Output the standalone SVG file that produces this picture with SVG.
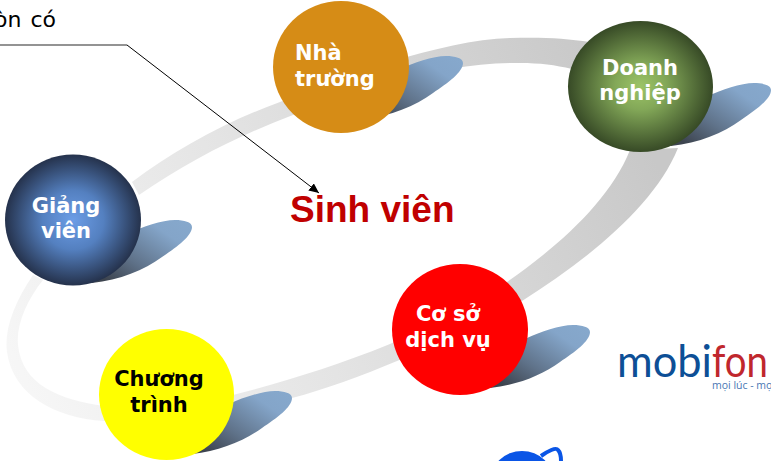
<svg xmlns="http://www.w3.org/2000/svg" width="771" height="461" viewBox="0 0 771 461">
<style>
.lbl{font-family:"DejaVu Sans",Verdana,sans-serif;font-weight:700;font-size:21px;text-anchor:middle;fill:#fff}
</style>
<defs>
<linearGradient id="band" gradientUnits="userSpaceOnUse" x1="0" y1="400" x2="620" y2="90">
<stop offset="0" stop-color="#f8f8f8"/><stop offset="0.45" stop-color="#e4e4e4"/><stop offset="1" stop-color="#c8c8c8"/>
</linearGradient>
<linearGradient id="shadow" x1="0" y1="1" x2="1" y2="0.1">
<stop offset="0.1" stop-color="#3d444f"/><stop offset="0.4" stop-color="#5f7289"/><stop offset="0.8" stop-color="#84a5c9"/><stop offset="1" stop-color="#86a8cc"/>
</linearGradient>
<path id="shape" fill="url(#shadow)" d="M0 0C0 -5 -8 -7 -17 -7C-30 -7 -50 0 -63 6C-85 15 -100 35 -100 56C-72 53 -48 43 -30 30C-15 20 0 9 0 0Z"/>
<radialGradient id="blue"><stop offset="0" stop-color="#6c9de6"/><stop offset="0.45" stop-color="#5480c0"/><stop offset="1" stop-color="#25324c"/></radialGradient>
<radialGradient id="green"><stop offset="0" stop-color="#9cc466"/><stop offset="0.35" stop-color="#83a858"/><stop offset="1" stop-color="#374a26"/></radialGradient>
<marker id="arrow" markerUnits="userSpaceOnUse" markerWidth="11" markerHeight="9" refX="10" refY="4.5" orient="auto">
<path d="M0 0L10 4.5L0 9Z" fill="#000"/>
</marker>
</defs>
<g id="connectors">
<path id="ring" fill="url(#band)" d="M33 275C14 303 4 330 7 352C13 395 55 418 104 421L175 415C215 412 265 408 292 398C360 380 450 340 522 301C590 258 655 205 678 148L630 150C610 200 560 245 507 282C430 335 330 370 233 395L168 410L104 406C60 400 22 385 18 345C16 325 27 300 43 280ZM132 182L139 195C190 160 240 135 293 115C350 92 440 62 520 63C540 63 555 65 572 69L590 42C565 38 540 37 510 38C440 40 340 78 280 102C225 122 175 150 132 182Z"/>
<path id="leader" d="M0 45H127" fill="none" stroke="#6f6f6f" stroke-width="1.5"/>
<path id="arrow-line" d="M127 45L319 193" fill="none" stroke="#000" stroke-width="1" marker-end="url(#arrow)"/>
</g>
<g id="giang-vien">
<use href="#shape" x="192" y="227"/>
<ellipse cx="73" cy="220" rx="68" ry="65.5" fill="url(#blue)"/>
<text class="lbl"><tspan x="66" y="213">Giảng</tspan><tspan x="66" y="238">viên</tspan></text>
</g>
<g id="nha-truong">
<use href="#shape" x="463" y="63"/>
<ellipse cx="341" cy="67" rx="68" ry="66" fill="#d68c16"/>
<text class="lbl" style="text-anchor:start"><tspan x="295" y="60">Nhà</tspan><tspan x="295" y="86">trường</tspan></text>
</g>
<g id="doanh-nghiep">
<use href="#shape" x="771" y="90"/>
<ellipse cx="640.5" cy="86.5" rx="72.5" ry="65.5" fill="url(#green)"/>
<text class="lbl"><tspan x="640" y="75">Doanh</tspan><tspan x="640" y="100">nghiệp</tspan></text>
</g>
<g id="co-so-dich-vu">
<use href="#shape" x="590" y="332"/>
<ellipse cx="460" cy="329.5" rx="68" ry="65.5" fill="#f00"/>
<text class="lbl"><tspan x="448" y="321">Cơ sở</tspan><tspan x="448" y="347">dịch vụ</tspan></text>
</g>
<g id="chuong-trinh">
<use href="#shape" x="292" y="398"/>
<ellipse cx="166.5" cy="394.5" rx="67.5" ry="65.5" fill="#ff0"/>
<text class="lbl" style="fill:#000"><tspan x="159" y="386">Chương</tspan><tspan x="159" y="412">trình</tspan></text>
</g>
<g id="sinh-vien">
<text x="290" y="222" font-family="'Liberation Sans',Arial,sans-serif" font-weight="700" font-size="37" fill="#c00000">Sinh viên</text>
</g>
<g id="caption">
<text x="-6" y="27" font-family="'DejaVu Sans',Verdana,sans-serif" font-size="22" word-spacing="2" fill="#000">òn có</text>
</g>
<g id="mobifone">
<text x="617" y="377" font-family="Lato,'Open Sans',sans-serif" font-size="44" fill="#0d4f96" textLength="95" lengthAdjust="spacingAndGlyphs">mobi</text>
<text x="712" y="377" font-family="Lato,'Open Sans',sans-serif" font-size="44" fill="#c0272d" textLength="56" lengthAdjust="spacingAndGlyphs">fon</text>
<text x="712" y="389" font-family="'Open Sans',sans-serif" font-size="10.5" fill="#4a78b4">mọi lúc - mọ</text>
</g>
<g id="blue-logo">
<ellipse cx="522" cy="482" rx="32" ry="31" fill="#0a55e6"/>
<path d="M541 456C548 451 556 447 558 450C561 453 561 457 561 461" fill="none" stroke="#0a55e6" stroke-width="4"/>
</g>
</svg>
